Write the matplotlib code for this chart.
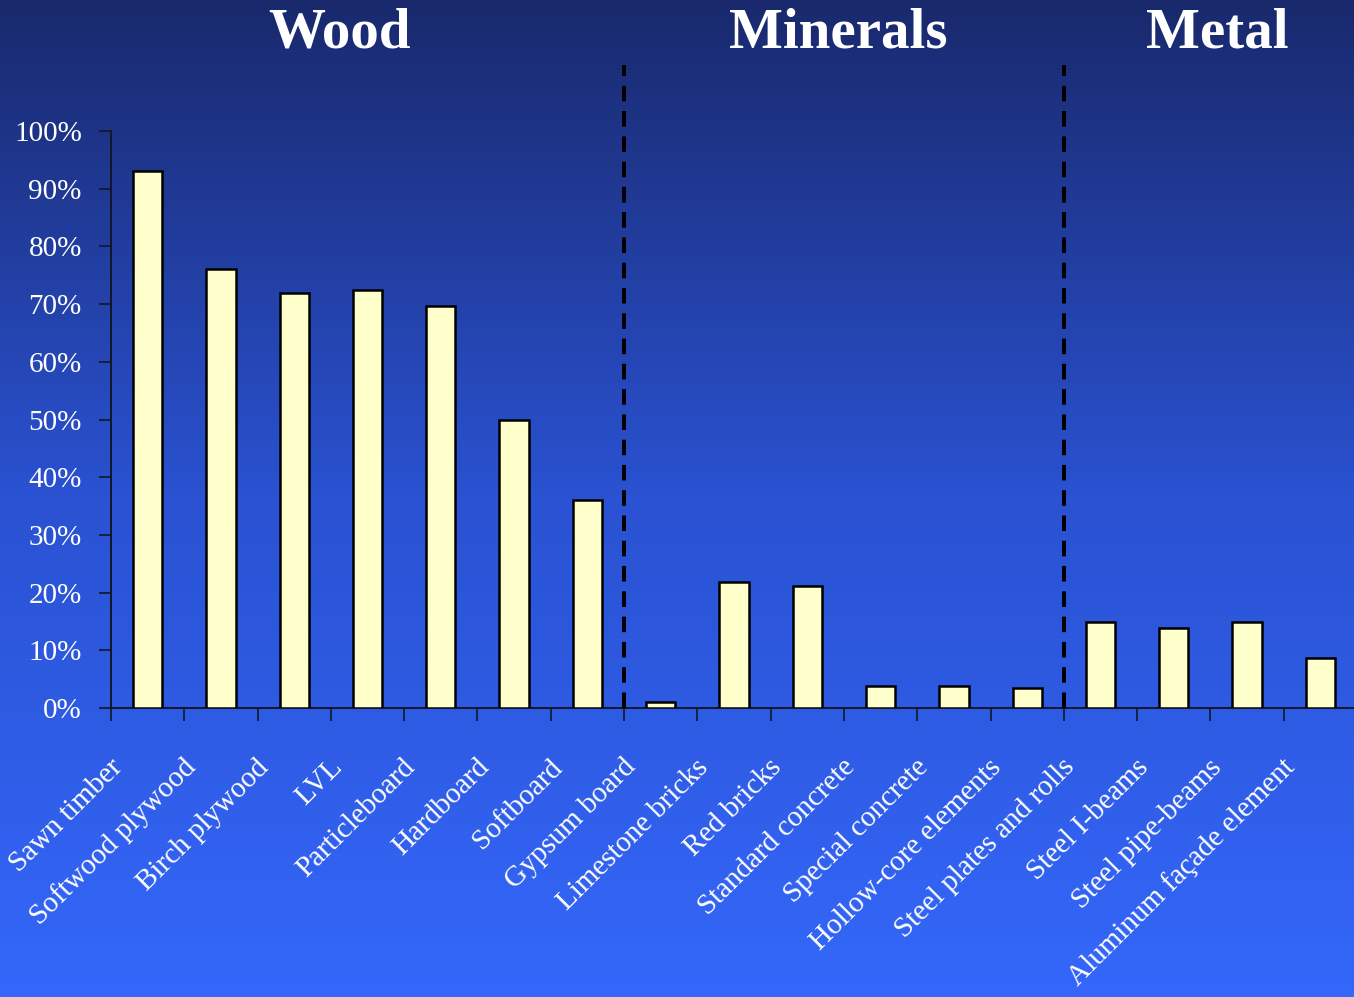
import numpy as np
import matplotlib

matplotlib.use("Agg")
import matplotlib.pyplot as plt
from matplotlib.colors import LinearSegmentedColormap
from matplotlib.ticker import FixedLocator, PercentFormatter

categories = [
    "Sawn timber", "Softwood plywood", "Birch plywood", "LVL", "Particleboard",
    "Hardboard", "Softboard", "Gypsum board", "Limestone bricks", "Red bricks",
    "Standard concrete", "Special concrete", "Hollow-core elements",
    "Steel plates and rolls", "Steel I-beams", "Steel pipe-beams",
    "Aluminum façade element",
]
shares = [93, 76, 72, 72.4, 69.6, 50, 36, 1, 21.8, 21.1,
          3.8, 3.8, 3.5, 14.9, 13.9, 14.9, 8.7]
groups = ["Wood", "Minerals", "Metal"]
group_sizes = [7, 6, 4]

SERIF = ["Liberation Serif", "DejaVu Serif"]
plt.rcParams["font.family"] = SERIF

fig = plt.figure(figsize=(13.54, 9.97), dpi=100)

# vertical navy-to-blue backdrop across the whole figure
bg = fig.add_axes([0, 0, 1, 1], zorder=-10)
cmap = LinearSegmentedColormap.from_list("bg", ["#19296c", "#2a52d2", "#3467fa"])
bg.imshow(np.linspace(0, 1, 256).reshape(-1, 1), aspect="auto", cmap=cmap,
          extent=[0, 1, 0, 1])
bg.set_axis_off()

ax = fig.add_axes([111 / 1354, 1 - 708 / 997, 1246 / 1354, 577 / 997])
ax.patch.set_alpha(0)

x = np.arange(len(categories)) + 0.5
ax.bar(x, shares, width=0.4, color="#ffffcc", edgecolor="black", linewidth=1.8,
       zorder=3)

ax.set_xlim(0, len(categories))
ax.set_ylim(0, 100)
ax.yaxis.set_major_locator(FixedLocator(np.arange(0, 101, 10)))
ax.yaxis.set_major_formatter(PercentFormatter(decimals=0))
ax.xaxis.set_major_locator(FixedLocator(np.arange(len(categories) + 1)))
ax.xaxis.set_major_formatter(plt.NullFormatter())
ax.tick_params(axis="y", length=9, width=1.2, color="#101828", labelsize=21,
               labelcolor="white", pad=12)
ax.tick_params(axis="x", length=9, width=1.2, color="#101828", direction="out")

for side in ("top", "right"):
    ax.spines[side].set_visible(False)
for side in ("left", "bottom"):
    ax.spines[side].set_color("#101828")
    ax.spines[side].set_linewidth(1.4)

# rotated category names ending down-left of each bar
for xi, name in zip(x, categories):
    ax.text(xi - 0.4, -9.6, name, rotation=45, rotation_mode="anchor",
            ha="right", va="center", fontsize=21, color="white", clip_on=False)

# group separators and headings
bounds = np.cumsum([0] + group_sizes)
for b in bounds[1:-1]:
    ax.plot([b, b], [0, 111.5], color="black", linestyle=(0, (4, 2.5)),
            linewidth=2.8, clip_on=False, zorder=4)

title_x = [339, 838, 1217]
for gx, g in zip(title_x, groups):
    fig.text(gx / 1354, 1 - 33 / 997, g, ha="center", va="center",
             fontsize=41, fontweight="bold", color="white")

fig.savefig("out.png", dpi=100)
